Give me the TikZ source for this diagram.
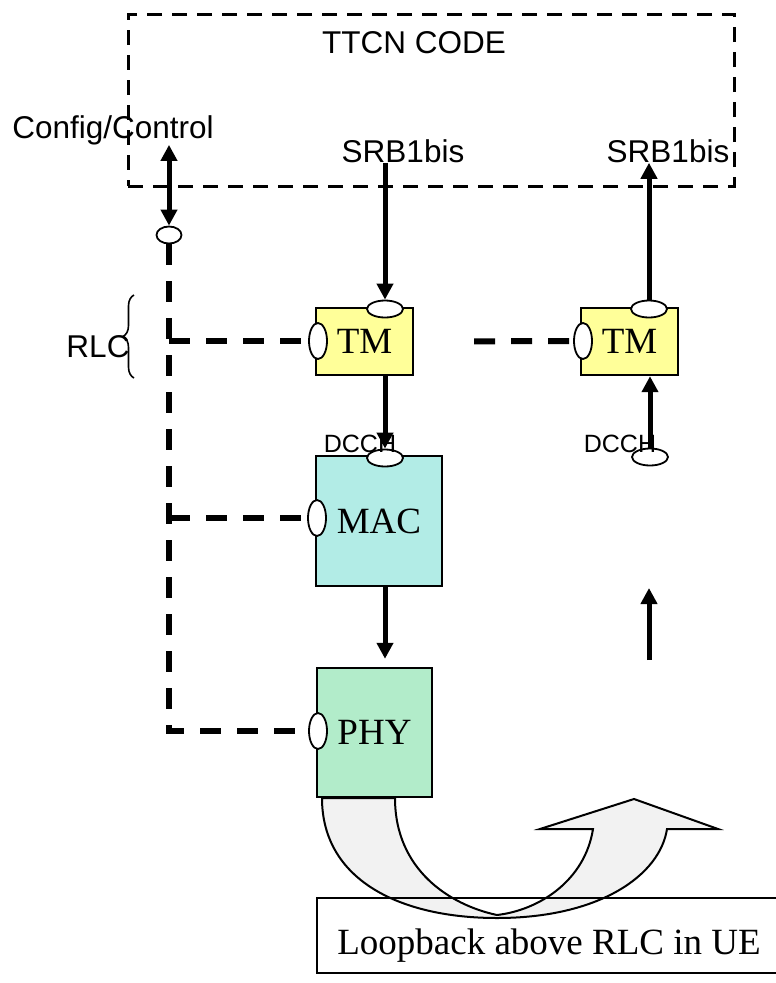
\documentclass[tikz,border=0pt]{standalone}
\usepackage{fontspec}
\setmainfont{Liberation Serif}
\newfontfamily\arialfont{Liberation Sans}
\usetikzlibrary{shapes.geometric,arrows.meta,decorations.pathreplacing}
\definecolor{tmyellow}{RGB}{255,255,153}
\definecolor{macteal}{RGB}{178,236,230}
\definecolor{phygreen}{RGB}{178,236,202}
\definecolor{loopgray}{RGB}{242,242,242}

\begin{document}
\begin{tikzpicture}[x=1pt, y=-1pt, >={Triangle[width=16pt,length=16pt]}, every node/.style={inner sep=0pt}]
  \tikzset{
      layer/.style={draw, line width=2.4pt, font=\fontsize{37}{40}\selectfont},
      port/.style={ellipse, draw, fill=white, line width=1.8pt},
      hport/.style={port, minimum width=36pt, minimum height=17pt},
      vport/.style={port, minimum width=18pt, minimum height=36pt},
      lbl/.style={font=\arialfont\fontsize{31.5}{34}\selectfont},
      small/.style={font=\arialfont\fontsize{25}{28}\selectfont},
      sig/.style={line width=5pt, ->},
      ctrl/.style={line width=6pt, dash pattern=on 21pt off 16pt},
      frame/.style={draw, line width=3pt, dash pattern=on 15pt off 10pt}
  }
  \useasboundingbox (0,0) rectangle (776,983);

  % loopback arrow and its box
  \filldraw[fill=loopgray, line width=2pt]
      (322,798) .. controls (322,880) and (400,918) .. (497,918)
      .. controls (600,918) and (660,875) .. (667,829)
      -- (718,829) -- (634,799) -- (540,829) -- (593,829)
      .. controls (585,880) and (540,910) .. (497,915)
      .. controls (450,905) and (395,870) .. (395,798) -- cycle;
  \draw[line width=1.8pt] (317,898) rectangle (790,973);
  \node[font=\fontsize{37}{40}\selectfont] (loop) at (549,946) {Loopback above RLC in UE};

  % test system
  \node[frame, minimum width=606pt, minimum height=172pt] (code) at (431,100) {};
  \node[lbl] (ttcn) at (414,43) {TTCN CODE};
  \node[lbl] (cfg) at (113,130) {Config/Control};
  \node[lbl] (srbA) at (403,151) {SRB1bis};
  \node[lbl] (srbB) at (668,151) {SRB1bis};

  % layers
  \node[layer, fill=tmyellow, minimum width=97pt, minimum height=67pt] (tmA) at (364.5,341.5) {TM};
  \node[layer, fill=tmyellow, minimum width=97pt, minimum height=67pt] (tmB) at (629.5,341.5) {TM};
  \node[layer, fill=macteal, minimum width=126pt, minimum height=130pt] (mac) at (379,521) {MAC};
  \node[layer, fill=phygreen, minimum width=115pt, minimum height=129pt] (phy) at (374.5,732.5) {PHY};

  % ports
  \node[hport, minimum width=25pt] (cfgport) at (169,235) {};
  \node[hport] (tmAtop) at (385,309) {};
  \node[vport] (tmAleft) at (318,341) {};
  \node[hport] (tmBtop) at (649,309) {};
  \node[vport] (tmBleft) at (583,341) {};
  \node[hport] (mactop) at (385,458) {};
  \node[vport] (macleft) at (317,518) {};
  \node[vport] (phyleft) at (318,731) {};
  \node[hport] (dcchport) at (650,457) {};

  \node[small] (dcchA) at (360,444) {DCCH};
  \node[small] (dcchB) at (620,444) {DCCH};
  \node[lbl] (rlc) at (98,347) {RLC};
  \draw[line width=1.6pt, decorate, decoration={brace, amplitude=11pt}] (134,378) -- (134,295);

  % data path
  \draw[sig, <->] (cfg.south -| cfgport) -- (cfgport.north);
  \draw[sig] (srbA.south -| tmAtop) -- (tmAtop.north);
  \draw[sig] (tmBtop.north) -- (srbB.south -| tmBtop);
  \draw[sig] (tmA.south -| tmAtop) -- (mactop.north);
  \draw[sig] (dcchport.north) -- (tmB.south -| dcchport);
  \draw[sig, shorten >=8pt] (mac.south -| mactop) -- (phy.north -| mactop);
  \coordinate (upA) at (649,660);
  \coordinate (upB) at (649,588);
  \draw[sig] (upA) -- (upB);

  % control path
  \draw[ctrl] (cfgport.south) |- (phyleft.west);
  \draw[ctrl] (cfgport.south |- tmAleft) -- (tmAleft.west);
  \draw[ctrl] (cfgport.south |- macleft) -- (macleft.west);
  \draw[ctrl, shorten <=60pt] (tmA.east) -- (tmBleft.west);
\end{tikzpicture}
\end{document}
